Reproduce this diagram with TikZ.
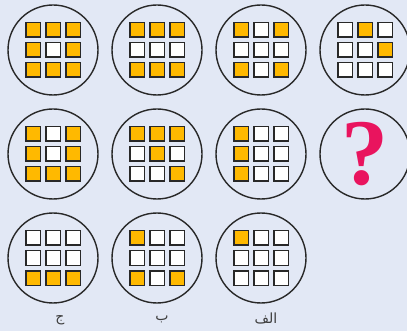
\documentclass[tikz,border=0pt]{standalone}
\usepackage{fontspec}
\newfontfamily\arabicfont[Script=Arabic]{DejaVu Sans}
\newfontfamily\qfont{Liberation Serif}
\TeXXeTstate=1
\usepackage{tikz}
\usetikzlibrary{positioning}
\definecolor{bgblue}{RGB}{226,232,245}
\definecolor{cell1}{RGB}{255,185,0}
\definecolor{cell0}{RGB}{255,255,255}
\definecolor{edgegray}{RGB}{40,40,40}
\definecolor{qpink}{RGB}{233,20,94}

\begin{document}
\begin{tikzpicture}[x=1pt, y=-1pt,
  disc/.style={circle, draw=edgegray, line width=1.4pt, minimum size=90pt, inner sep=0pt},
  cell/.style={rectangle, draw=edgegray, line width=1.5pt, minimum size=14.5pt, inner sep=0pt},
  lbl/.style={font=\arabicfont\fontsize{14}{16}\selectfont, text=edgegray!90},
]
\fill[bgblue] (0,0) rectangle (407,331);
\useasboundingbox (0,0) rectangle (407,331);

% the eleven discs, each with its 3x3 grid (1 = orange)
\foreach \n/\cx/\cy/\p in {
    a1/53/50/{1,1,1,1,0,1,1,1,1},   a2/157/50/{1,1,1,0,0,0,1,1,1},
    a3/261/50/{1,0,1,0,0,0,1,0,1},  a4/365/50/{0,1,0,0,0,1,0,0,0},
    b1/53/154/{1,0,1,1,0,1,1,1,1},  b2/157/154/{1,1,1,0,1,0,0,0,1},
    b3/261/154/{1,0,0,1,0,0,1,0,0},
    c1/53/258/{0,0,0,0,0,0,1,1,1},  c2/157/258/{1,0,0,0,0,0,1,0,1},
    c3/261/258/{1,0,0,0,0,0,0,0,0}}{
  \node[disc] (\n) at (\cx,\cy) {};
  \foreach \v [count=\k from 0] in \p {
    \pgfmathtruncatemacro\col{mod(\k,3)}
    \pgfmathtruncatemacro\row{div(\k,3)}
    \node[cell, fill=cell\v] (\n-\k) at (\cx+20*\col-20, \cy+20*\row-20) {};
  }
}

% the missing one
\node[disc] (b4) at (365,154) {};
\node[text=qpink, font=\qfont\bfseries\fontsize{94}{94}\selectfont, inner sep=0pt] (qm) at (b4) {?};

% answer labels
\node[lbl] (lc1) at (60,320) {\beginR ج\endR};
\node[lbl] (lc2) at (162,319) {\beginR ب\endR};
\node[lbl] (lc3) at (266,318) {\beginR الف\endR};
\end{tikzpicture}
\end{document}
